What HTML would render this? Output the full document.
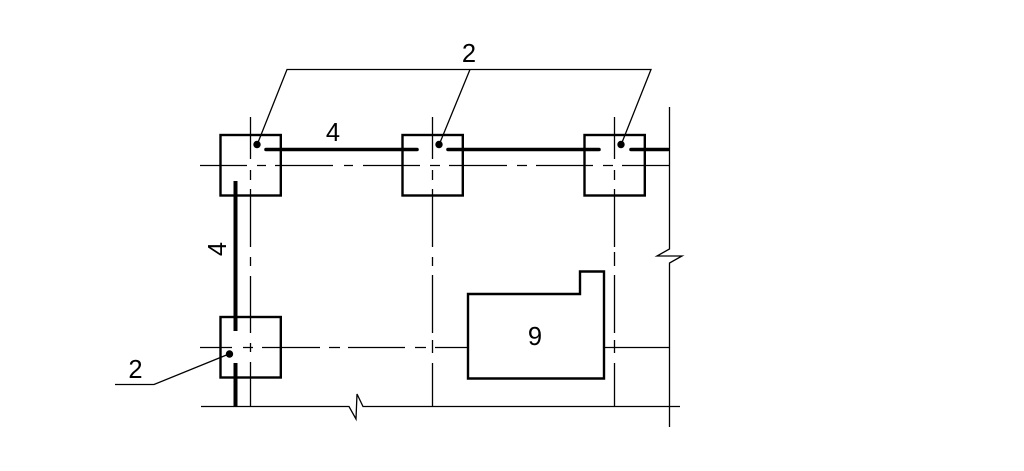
<!DOCTYPE html>
<html>
<head>
<meta charset="utf-8">
<style>
html,body{margin:0;padding:0;background:#fff;}
svg{display:block;}
text{font-family:"Liberation Sans",sans-serif;font-size:25.5px;fill:#000;text-anchor:middle;}
</style>
</head>
<body>
<svg width="1024" height="471" viewBox="0 0 1024 471" xmlns="http://www.w3.org/2000/svg">
<rect width="1024" height="471" fill="#fff"/>
<g stroke="#000" stroke-width="1.300" fill="none">
<path d="M200 165.500H247M257 165.500H266M275 165.500H333M344 165.500H353M363 165.500H420M430 165.500H440M449 165.500H507M517 165.500H527M536 165.500H593M603 165.500H613M622 165.500H669"/>
<path d="M200 347.500H232M243 347.500H253M262 347.500H320M329 347.500H340M348 347.500H405M415 347.500H426M435 347.500H468M604 347.500H669"/>
<path d="M250.500 117V159M250.500 170V180M250.500 189V247M250.500 257V266M250.500 276V333M250.500 343V352M250.500 362V406"/>
<path d="M432.500 117V159M432.500 170V180M432.500 189V247M432.500 257V266M432.500 275V333M432.500 340V353M432.500 363V406"/>
<path d="M614.500 117V159M614.500 170V180M614.500 189V247M614.500 252V266M614.500 275V333M614.500 340V353M614.500 363V406"/>
<path d="M669.500 107V249L657 256H682L669.500 263V427"/>
<path d="M201 406.500H349L356 419L357 394L363 406.500H680"/>
<path d="M257 145L287 69.500H651L621 145M470 69.500L439 145M229 354L154 384.500H115"/>
</g>
<g stroke="#000" stroke-width="2.400" fill="none">
<rect x="220.500" y="135" width="60.300" height="60.500"/>
<rect x="402.500" y="135" width="60.300" height="60.500"/>
<rect x="584.500" y="135" width="60.300" height="60.500"/>
<rect x="220.500" y="317" width="60.300" height="60.500"/>
<path d="M468 294H580V271.500H604V378.500H468Z"/>
</g>
<g stroke="#000" stroke-width="3.600" fill="none" stroke-linecap="round">
<path d="M266 149.500H417M448 149.500H599M631 149.500H668"/>
<path d="M235.500 181V331M235.500 363V406" stroke-linecap="butt" stroke-width="4"/>
</g>
<g fill="#000">
<circle cx="257" cy="144.500" r="3.700"/>
<circle cx="439" cy="144.500" r="3.700"/>
<circle cx="621" cy="144.500" r="3.700"/>
<circle cx="229.500" cy="354" r="3.700"/>
</g>
<text x="469" y="62">2</text>
<text x="333" y="141">4</text>
<text x="135.500" y="378">2</text>
<text x="535" y="345">9</text>
<text transform="translate(226 249) rotate(-90)" x="0" y="0">4</text>
</svg>
</body>
</html>
